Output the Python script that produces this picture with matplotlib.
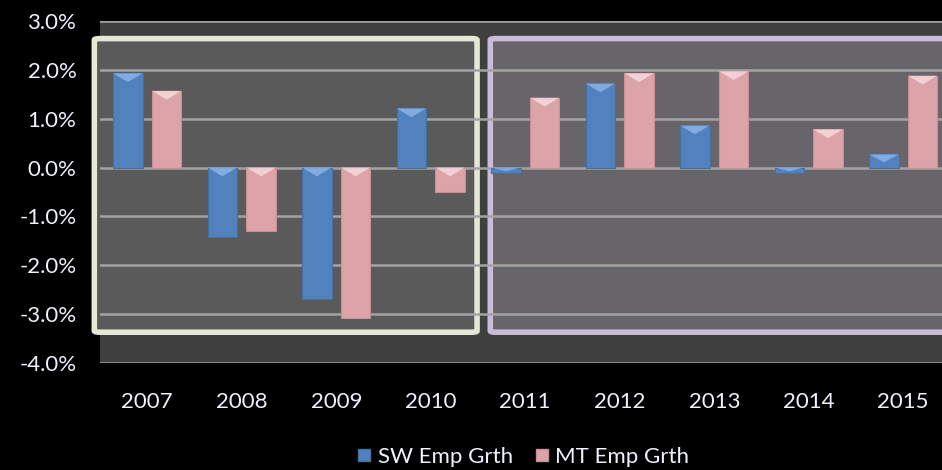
import matplotlib
matplotlib.use("Agg")
import matplotlib.pyplot as plt
from matplotlib.patches import FancyBboxPatch, Polygon
from matplotlib.lines import Line2D
import numpy as np

years = ["2007", "2008", "2009", "2010", "2011", "2012", "2013", "2014", "2015"]
sw_growth = [1.93, -1.42, -2.68, 1.21, -0.12, 1.72, 0.86, -0.12, 0.27]
mt_growth = [1.57, -1.29, -3.08, -0.49, 1.43, 1.93, 1.97, 0.78, 1.88]
y_ticks = [3.0, 2.0, 1.0, 0.0, -1.0, -2.0, -3.0, -4.0]

W, H = 942, 470
fig = plt.figure(figsize=(W / 100, H / 100), dpi=100)
fig.patch.set_facecolor("black")

ax = fig.add_axes([100 / W, (H - 363) / H, 850.5 / W, 342 / H])
ax.set_facecolor("#404040")
ax.set_xlim(-0.5, 8.5)
ax.set_ylim(-4.0, 3.0)

text_color = "#eef2fa"
font = "Lato"
fs = 16

# Highlight boxes
ax.add_patch(FancyBboxPatch((-0.56, -3.37), 4.05, 6.01,
                            boxstyle="round,pad=0,rounding_size=0.06",
                            mutation_aspect=0.5,
                            facecolor="#5a5a5a", edgecolor="#e6e8d6",
                            linewidth=4, zorder=1, clip_on=False))
ax.add_patch(FancyBboxPatch((3.63, -3.37), 6.0, 6.01,
                            boxstyle="round,pad=0,rounding_size=0.06",
                            mutation_aspect=0.5,
                            facecolor="#67646a", edgecolor="#c9bcd9",
                            linewidth=4, zorder=1, clip_on=True))

for t in y_ticks:
    ax.axhline(t, color="#a3a3a3", linewidth=1.8, zorder=2)

x = np.arange(len(years))
bw = 0.31
off = 0.205
b1 = ax.bar(x - off, sw_growth, bw, color="#5182be", edgecolor="#46709f",
            linewidth=0.8, zorder=3, label="SW Emp Grth")
b2 = ax.bar(x + off, mt_growth, bw, color="#dca3a9", edgecolor="#c98f95",
            linewidth=0.8, zorder=3, label="MT Emp Grth")

# bevel highlight at top end of each bar
for bars, hl in ((b1, "#8fb6ea"), (b2, "#f6dde0")):
    for r in bars:
        x0, w, h = r.get_x(), r.get_width(), r.get_height()
        ytop = h if h >= 0 else 0
        depth = min(0.3, abs(h)) * 0.6
        pts = [(x0, ytop), (x0 + w, ytop), (x0 + w / 2, ytop - depth)]
        ax.add_patch(Polygon(pts, closed=True, facecolor=hl, edgecolor="none",
                             alpha=0.8, zorder=4))

for s in ax.spines.values():
    s.set_visible(False)

ax.set_yticks(y_ticks)
ax.set_yticklabels([f"{v:.1f}%" for v in y_ticks], color=text_color,
                   fontsize=fs, fontfamily=font)
ax.set_xticks(x)
ax.set_xticklabels(years, color=text_color, fontsize=fs, fontfamily=font)
ax.tick_params(axis="both", length=0)
ax.tick_params(axis="y", pad=17)
ax.tick_params(axis="x", pad=21)

handles = [
    Line2D([], [], marker="s", linestyle="none", markersize=9,
           markerfacecolor="#5182be", markeredgecolor="#46709f"),
    Line2D([], [], marker="s", linestyle="none", markersize=9,
           markerfacecolor="#dca3a9", markeredgecolor="#c98f95"),
]
leg = fig.legend(handles, ["SW Emp Grth", "MT Emp Grth"], loc="center",
                 bbox_to_anchor=(521 / W, 1 - 457 / H), ncol=2, frameon=False,
                 handletextpad=0.1, columnspacing=0.8, handlelength=1.0,
                 prop={"family": font, "size": fs})
for t in leg.get_texts():
    t.set_color(text_color)

fig.savefig("out.png", dpi=100, facecolor="black")
